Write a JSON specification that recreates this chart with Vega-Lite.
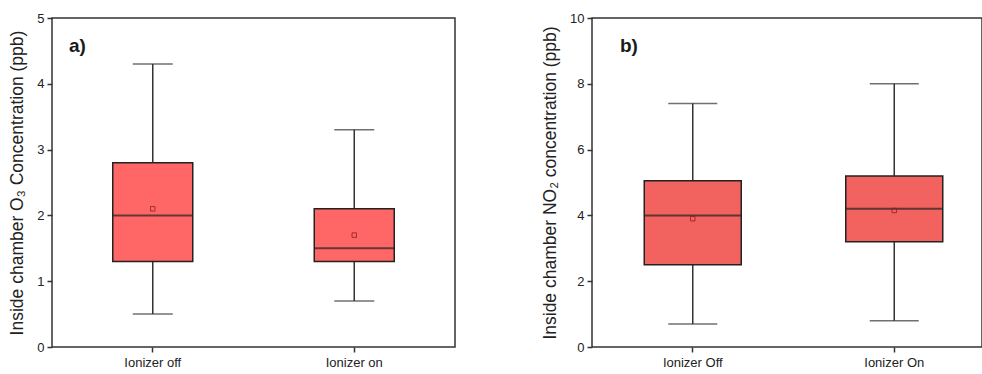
{
  "$schema": "https://vega.github.io/schema/vega-lite/v6.json",
  "padding": {"left": 8, "top": 11, "right": 0, "bottom": 0},
  "spacing": 84,
  "background": "white",
  "config": {
    "font": "Liberation Sans",
    "view": {"stroke": "#333", "strokeWidth": 1.5},
    "axis": {
      "domain": false,
      "grid": false,
      "tickColor": "#333",
      "tickWidth": 1.5,
      "labelFont": "Liberation Sans",
      "labelFontSize": 13,
      "labelColor": "#222",
      "titleFont": "Liberation Sans",
      "titleFontSize": 17.5,
      "titleFontWeight": "normal",
      "titleColor": "#222"
    }
  },
  "datasets": {
    "o3": [
      {"condition": "Ionizer off", "min": 0.5, "q1": 1.3, "median": 2.0, "q3": 2.8, "max": 4.3, "mean": 2.1},
      {"condition": "Ionizer on", "min": 0.7, "q1": 1.3, "median": 1.5, "q3": 2.1, "max": 3.3, "mean": 1.7}
    ],
    "no2": [
      {"condition": "Ionizer Off", "min": 0.7, "q1": 2.5, "median": 4.0, "q3": 5.05, "max": 7.4, "mean": 3.9},
      {"condition": "Ionizer On", "min": 0.8, "q1": 3.2, "median": 4.2, "q3": 5.2, "max": 8.0, "mean": 4.15}
    ]
  },
  "hconcat": [
    {
      "width": 403,
      "height": 329,
      "data": {"name": "o3"},
      "title": {"text": "a)", "anchor": "start", "frame": "group", "offset": -44, "dx": 17, "fontSize": 19, "fontWeight": "bold", "color": "#1a1a1a", "font": "Liberation Sans"},
      "encoding": {
        "x": {"field": "condition", "type": "nominal", "sort": null,
          "scale": {"paddingInner": 0, "paddingOuter": 0},
          "axis": {"title": null, "labelAngle": 0, "tickSize": 5, "labelPadding": 4}}
      },
      "layer": [
        {
          "mark": {"type": "rule", "color": "#333", "strokeWidth": 1.5},
          "encoding": {
            "y": {"field": "min", "type": "quantitative",
              "scale": {"domain": [0, 5], "nice": false},
              "axis": {"title": "Inside chamber O₃ Concentration (ppb)",
                "values": [0, 0.5, 1, 1.5, 2, 2.5, 3, 3.5, 4, 4.5, 5],
                "format": "~g",
                "labelExpr": "datum.value % 1 === 0 ? datum.label : ''",
                "tickSize": {"condition": {"test": "datum.value % 1 === 0", "value": 5}, "value": 3},
                "labelPadding": 3, "titlePadding": 10}},
            "y2": {"field": "max"}
          }
        },
        {
          "mark": {"type": "tick", "color": "#333", "thickness": 1.5, "size": 40},
          "encoding": {"y": {"field": "min", "type": "quantitative"}}
        },
        {
          "mark": {"type": "tick", "color": "#333", "thickness": 1.5, "size": 40},
          "encoding": {"y": {"field": "max", "type": "quantitative"}}
        },
        {
          "mark": {"type": "bar", "fill": "#FF6666", "stroke": "#222", "strokeWidth": 1.5, "size": 80},
          "encoding": {"y": {"field": "q1", "type": "quantitative"}, "y2": {"field": "q3"}}
        },
        {
          "mark": {"type": "tick", "color": "#222", "thickness": 2, "size": 80},
          "encoding": {"y": {"field": "median", "type": "quantitative"}}
        },
        {
          "mark": {"type": "point", "shape": "square", "size": 20, "filled": false, "stroke": "#8B2020", "strokeWidth": 0.8, "opacity": 1},
          "encoding": {"y": {"field": "mean", "type": "quantitative"}}
        }
      ]
    },
    {
      "width": 390,
      "height": 329,
      "data": {"name": "no2"},
      "title": {"text": "b)", "anchor": "start", "frame": "group", "offset": -44, "dx": 28, "fontSize": 19, "fontWeight": "bold", "color": "#1a1a1a", "font": "Liberation Sans"},
      "encoding": {
        "x": {"field": "condition", "type": "nominal", "sort": null,
          "scale": {"paddingInner": 0, "paddingOuter": 0, "range": [0, 403]},
          "axis": {"title": null, "labelAngle": 0, "tickSize": 5, "labelPadding": 4}}
      },
      "layer": [
        {
          "mark": {"type": "rule", "color": "#333", "strokeWidth": 1.5},
          "encoding": {
            "y": {"field": "min", "type": "quantitative",
              "scale": {"domain": [0, 10], "nice": false},
              "axis": {"title": "Inside chamber NO₂ concentration (ppb)",
                "values": [0, 1, 2, 3, 4, 5, 6, 7, 8, 9, 10],
                "labelExpr": "datum.value % 2 === 0 ? datum.label : ''",
                "tickSize": {"condition": {"test": "datum.value % 2 === 0", "value": 5}, "value": 3},
                "labelPadding": 3, "titlePadding": 10}},
            "y2": {"field": "max"}
          }
        },
        {
          "mark": {"type": "tick", "color": "#333", "thickness": 1.5, "size": 49},
          "encoding": {"y": {"field": "min", "type": "quantitative"}}
        },
        {
          "mark": {"type": "tick", "color": "#333", "thickness": 1.5, "size": 49},
          "encoding": {"y": {"field": "max", "type": "quantitative"}}
        },
        {
          "mark": {"type": "bar", "fill": "#F2625E", "stroke": "#222", "strokeWidth": 1.5, "size": 97},
          "encoding": {"y": {"field": "q1", "type": "quantitative"}, "y2": {"field": "q3"}}
        },
        {
          "mark": {"type": "tick", "color": "#222", "thickness": 2, "size": 97},
          "encoding": {"y": {"field": "median", "type": "quantitative"}}
        },
        {
          "mark": {"type": "point", "shape": "square", "size": 20, "filled": false, "stroke": "#8B2020", "strokeWidth": 0.8, "opacity": 1},
          "encoding": {"y": {"field": "mean", "type": "quantitative"}}
        }
      ]
    }
  ]
}
